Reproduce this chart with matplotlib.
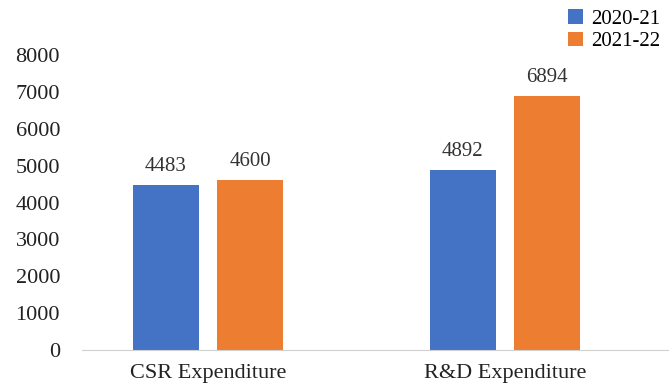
import numpy as np
import matplotlib
matplotlib.use("Agg")
import matplotlib.pyplot as plt

categories = ["CSR Expenditure", "R&D Expenditure"]
series_names = ["2020-21", "2021-22"]
values_2020 = [4483, 4892]
values_2021 = [4600, 6894]
yticks = [0, 1000, 2000, 3000, 4000, 5000, 6000, 7000, 8000]

plt.rcParams["font.family"] = ["Liberation Serif", "DejaVu Serif"]

fig = plt.figure(figsize=(6.69, 3.83), dpi=100)
ax = fig.add_axes([0.123, 0.086, 0.877, 0.77])

x = np.arange(len(categories))
w = 0.222
b1 = ax.bar(x - 0.142, values_2020, w, color="#4472C4", label=series_names[0])
b2 = ax.bar(x + 0.142, values_2021, w, color="#ED7D31", label=series_names[1])

for bars in (b1, b2):
    for rect in bars:
        h = rect.get_height()
        ax.text(rect.get_x() + rect.get_width() / 2, h + 250, f"{int(h)}",
                ha="center", va="bottom", fontsize=15, color="#333333")

ax.set_ylim(0, 8000)
ax.set_xlim(-0.423, 1.553)
ax.set_yticks(yticks)
ax.set_xticks(x)
ax.set_xticklabels(categories)
ax.tick_params(axis="both", length=0, labelsize=16, colors="#222222")
ax.tick_params(axis="x", pad=10)
ax.tick_params(axis="y", pad=16)
for s in ["top", "right", "left"]:
    ax.spines[s].set_visible(False)
ax.spines["bottom"].set_color("#d0d0d0")

fig.legend(handles=[b1, b2], loc="upper right", bbox_to_anchor=(1.015, 1.025),
           frameon=False, fontsize=15, handlelength=0.7, handleheight=0.7,
           handletextpad=0.4, labelspacing=0.15)

fig.savefig("out.png", dpi=100)
